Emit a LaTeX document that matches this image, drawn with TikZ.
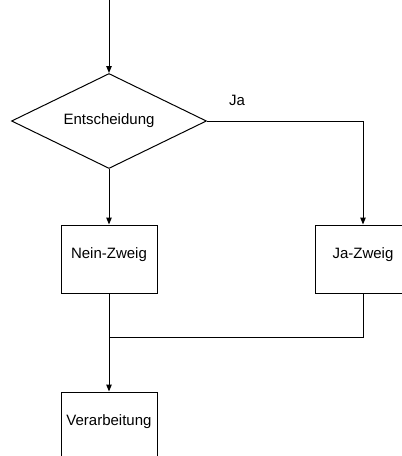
\documentclass[tikz,border=0pt]{standalone}
\usepackage{fontspec}
\setmainfont{Liberation Sans}
\usetikzlibrary{shapes.geometric,arrows.meta}

\begin{document}
\begin{tikzpicture}[x=1pt,y=1pt,yscale=-1,xscale=1,
  line width=1pt,
  flow/.style={-{Triangle[length=7pt,width=5.5pt]}},
  entbox/.style={diamond,draw,aspect=2,minimum width=195pt,minimum height=95pt,inner sep=0pt,
    font=\fontsize{15}{17}\selectfont},
  zweigbox/.style={rectangle,draw,minimum width=96pt,minimum height=68pt,inner sep=0pt,
    text height=11pt,text depth=13pt,font=\fontsize{15}{17}\selectfont}]
%set diagram area: 402 x 456
\useasboundingbox (0,0) rectangle (402,456);
\clip (0,0) rectangle (402,456);

% Start of flow
\coordinate (start) at (109,-2);
% Decision
\node [entbox] (entsch) at (109,121) {Entscheidung};
% Branches
\node [zweigbox] (nein) at (109,259) {Nein-Zweig};
\node [zweigbox] (ja) at (363,259) {Ja-Zweig};
% Processing
\node [zweigbox] (verarb) at (109,426) {Verarbeitung};
% Join point
\coordinate (join) at (109,337);

% Connectors
\draw [flow] (start) -- (entsch.north);
\draw [flow] (entsch.south) -- (nein.north);
\draw [flow] (entsch.east) -| (ja.north);
\draw [flow] (nein.south) -- (verarb.north);
\draw (ja.south) |- (join);

% Text Node
\node [font=\fontsize{15}{17}\selectfont] (jalabel) at (237,100) {Ja};

\end{tikzpicture}
\end{document}
